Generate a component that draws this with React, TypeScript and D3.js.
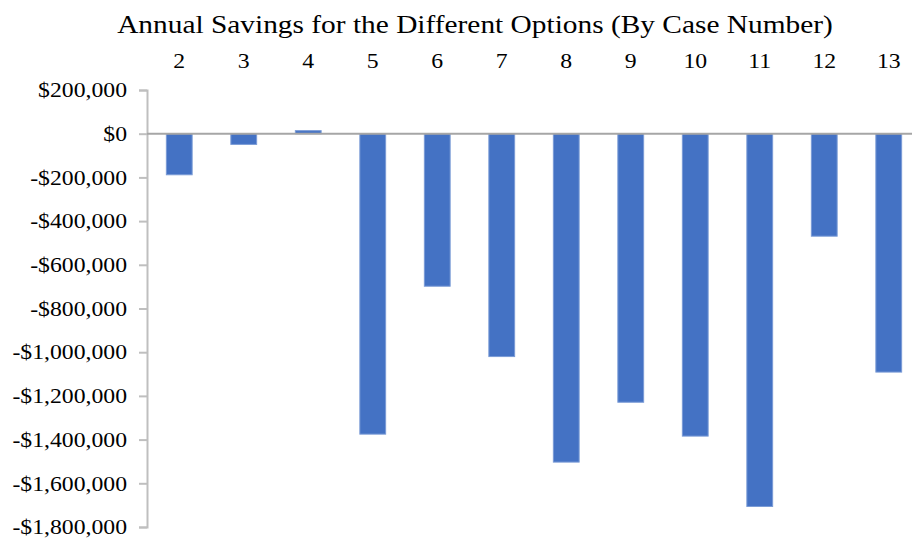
import React, { useEffect, useRef } from 'react';
import * as d3 from 'd3';

const cases = ['2', '3', '4', '5', '6', '7', '8', '9', '10', '11', '12', '13'];
const savings = [-188000, -49000, 14000, -1375000, -698000, -1020000, -1503000, -1229000, -1384000, -1706000, -469000, -1091000];
const yTicks = [200000, 0, -200000, -400000, -600000, -800000, -1000000, -1200000, -1400000, -1600000, -1800000];
const title = 'Annual Savings for the Different Options (By Case Number)';

const width = 912;
const height = 542;
const font = 'Liberation Serif, serif';
const stretch = 1.13; // the source text is a bit wider than plain Times

function fmt(v: number) {
  const s = '$' + d3.format(',')(Math.abs(v));
  return v < 0 ? '-' + s : s;
}

export default function App() {
  const svgRef = useRef<SVGSVGElement>(null);

  useEffect(() => {
    const svg = d3.select(svgRef.current);
    svg.selectAll('*').remove();

    const x = d3.scaleBand()
      .domain(cases)
      .range([147, 147 + 12 * 64.5])
      .paddingInner(0.6)
      .paddingOuter(0.3);

    const y = d3.scaleLinear()
      .domain([-1800000, 200000])
      .range([527, 90]);

    // title
    svg.append('text')
      .attr('transform', `translate(475,33) scale(${stretch},1)`)
      .attr('text-anchor', 'middle')
      .style('font-family', font)
      .style('font-size', '26px')
      .attr('fill', '#000')
      .text(title);

    // y axis
    const yAxis = svg.append('g')
      .attr('transform', 'translate(147,0)')
      .call(d3.axisLeft(y).tickValues(yTicks).tickSize(8).tickFormat(d => fmt(+d)));
    yAxis.attr('font-family', null).attr('font-size', null);
    yAxis.select('.domain').attr('stroke', '#bfbfbf').attr('stroke-width', 2);
    yAxis.selectAll('.tick line').attr('stroke', '#bfbfbf').attr('stroke-width', 2);
    yAxis.selectAll('.tick text')
      .attr('x', -20 / stretch)
      .attr('transform', `scale(${stretch},1)`)
      .style('font-family', font)
      .style('font-size', '21px')
      .attr('fill', '#000');

    // bars
    svg.append('g')
      .selectAll('rect')
      .data(savings)
      .join('rect')
      .attr('x', (d, i) => x(cases[i])!)
      .attr('width', x.bandwidth())
      .attr('y', d => y(Math.max(0, d)))
      .attr('height', d => Math.abs(y(d) - y(0)))
      .attr('fill', '#4472c4')
      .attr('stroke', '#7a9bd6')
      .attr('stroke-width', 1);

    // zero line
    svg.append('line')
      .attr('x1', 147)
      .attr('x2', width)
      .attr('y1', y(0))
      .attr('y2', y(0))
      .attr('stroke', '#a6a6a6')
      .attr('stroke-width', 2);

    // category labels along the top
    svg.append('g')
      .selectAll('text')
      .data(cases)
      .join('text')
      .attr('transform', d => `translate(${x(d)! + x.bandwidth() / 2},68) scale(${stretch},1)`)
      .attr('text-anchor', 'middle')
      .style('font-family', font)
      .style('font-size', '21px')
      .attr('fill', '#000')
      .text(d => d);
  }, []);

  return (
    <svg ref={svgRef} width={width} height={height} style={{ position: 'absolute', left: 0, top: 0, background: '#fff' }} />
  );
}
